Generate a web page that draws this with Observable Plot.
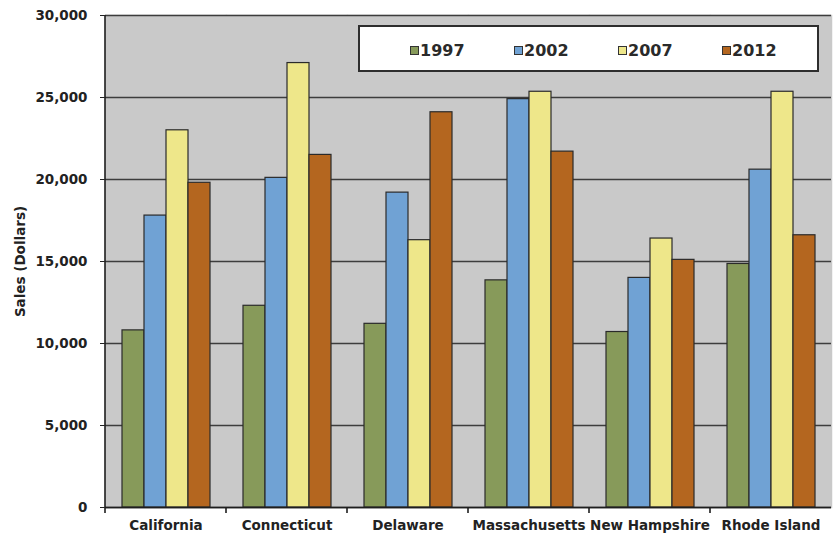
<!DOCTYPE html>
<html>
<head>
<meta charset="utf-8">
<script src="https://cdn.jsdelivr.net/npm/d3@7"></script>
<script src="https://cdn.jsdelivr.net/npm/@observablehq/plot@0.6"></script>
<style>
  html, body { margin: 0; padding: 0; background: #fff; }
  #wrap { position: relative; width: 833px; height: 540px; overflow: hidden; }
  #wrap svg text { font-weight: bold; }
  #legend {
    position: absolute; left: 358px; top: 25px; width: 457px; height: 43px;
    border: 2px solid #2e2e2e; background: #fff; box-sizing: content-box;
    display: flex; align-items: center; padding-left: 0; 
    font-family: "DejaVu Sans", sans-serif; font-weight: bold; font-size: 16px; color: #2a2a2a;
  }
  .item { display: flex; align-items: center; width: 104px; padding-top: 4px; }
  .sw { width: 7px; height: 7px; border: 1px solid #333; margin-right: 1px; }
</style>
</head>
<body>
<div id="wrap"></div>
<script>
const states = ["California", "Connecticut", "Delaware", "Massachusetts", "New Hampshire", "Rhode Island"];
const years = ["1997", "2002", "2007", "2012"];
const sales1997 = [10800, 12300, 11200, 13850, 10700, 14850];
const sales2002 = [17800, 20100, 19200, 24900, 14000, 20600];
const sales2007 = [23000, 27100, 16300, 25350, 16400, 25350];
const sales2012 = [19800, 21500, 24100, 21700, 15100, 16600];
const yTicks = [0, 5000, 10000, 15000, 20000, 25000, 30000];
const colors = ["#879a5a", "#70a2d4", "#eee78a", "#b4661f"];

const series = [sales1997, sales2002, sales2007, sales2012];
const data = [];
states.forEach((s, i) => years.forEach((y, j) => data.push({state: s, year: y, value: series[j][i]})));

const plot = Plot.plot({
  width: 833,
  height: 540,
  marginLeft: 103,
  marginRight: 0,
  marginTop: 15,
  marginBottom: 33,
  style: {fontFamily: "DejaVu Sans, sans-serif", fontSize: "13.5px", color: "#222", background: "#fff", overflow: "visible"},
  fx: {domain: states, padding: 0, tickSize: 0, tickPadding: 13, label: null},
  x: {domain: years, paddingInner: 0, paddingOuter: 0.7, axis: null},
  y: {domain: [0, 30000], ticks: yTicks, tickFormat: d3.format(","), tickSize: 5, tickPadding: 13,
      label: "Sales (Dollars)", labelAnchor: "center", labelOffset: 90, labelArrow: "none"},
  color: {domain: years, range: colors},
  marks: [
    Plot.frame({fill: "#c9c9c9", stroke: "#c9c9c9", strokeWidth: 1.5}),
    Plot.ruleY(yTicks, {stroke: "#3d3d3d", strokeWidth: 1.6}),
    Plot.barY(data, {fx: "state", x: "year", y: "value", fill: "year", stroke: "#2a2a2a", strokeWidth: 1.2}),
    Plot.ruleY([0], {stroke: "#1e1e1e", strokeWidth: 1.6})
  ]
});

document.getElementById("wrap").appendChild(plot);

// axis line and category boundary ticks, positioned with the plot's own scales
const fx = plot.scale("fx");
const ys = plot.scale("y");
const g = d3.select(plot).append("g").attr("stroke", "#1e1e1e").attr("stroke-width", 1.6);
const x0 = fx.apply(states[0]);
g.append("line").attr("x1", x0).attr("x2", x0).attr("y1", ys.apply(30000)).attr("y2", ys.apply(0));
states.forEach(s => {
  const xb = fx.apply(s);
  g.append("line").attr("x1", xb).attr("x2", xb).attr("y1", ys.apply(0)).attr("y2", ys.apply(0) + 6);
});

// legend
const legend = document.createElement("div");
legend.id = "legend";
const inner = document.createElement("div");
inner.style.display = "flex";
inner.style.marginLeft = "50px";
years.forEach((y, i) => {
  const it = document.createElement("div");
  it.className = "item";
  const sw = document.createElement("div");
  sw.className = "sw";
  sw.style.background = colors[i];
  const t = document.createElement("span");
  t.textContent = y;
  it.appendChild(sw);
  it.appendChild(t);
  inner.appendChild(it);
});
legend.appendChild(inner);
document.getElementById("wrap").appendChild(legend);
</script>
</body>
</html>
